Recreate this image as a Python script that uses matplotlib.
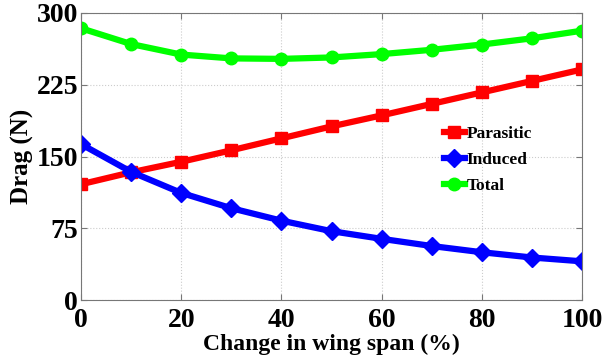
import matplotlib.pyplot as plt

plt.rcParams['font.family'] = 'Liberation Serif'
plt.rcParams['font.weight'] = 'bold'

# change in wing span (%) and drag components (N)
span_change = [0, 10, 20, 30, 40, 50, 60, 70, 80, 90, 100]
parasitic = [121, 133.5, 144.5, 156.5, 169, 181.5, 193, 205, 217, 229, 241]
induced = [163, 134, 112, 96, 83, 72, 64, 56.5, 50, 44.5, 40.5]
total = [284, 267.5, 256.5, 252.5, 252, 253.5, 257, 261.5, 267, 273.5, 281.5]

xticks = [0, 20, 40, 60, 80, 100]
yticks = [0, 75, 150, 225, 300]

fig = plt.figure(figsize=(6.04, 3.59), dpi=100)
ax = fig.add_axes([0.134, 0.164, 0.830, 0.800])

ax.plot(span_change, parasitic, color='#ff0000', lw=4.5, marker='s', ms=9, label='Parasitic')
ax.plot(span_change, induced, color='#0000ff', lw=4.5, marker='D', ms=9, label='Induced')
ax.plot(span_change, total, color='#00ff00', lw=4.5, marker='o', ms=9, label='Total')

ax.set_xlim(0, 100)
ax.set_ylim(0, 300)
ax.set_xticks(xticks)
ax.set_yticks(yticks)
ax.tick_params(direction='in', length=4, width=0.8, colors='#777777',
               labelcolor='black', labelsize=20, top=True, right=True, pad=2)
ax.tick_params(axis='x', pad=6)
for lab in ax.get_xticklabels() + ax.get_yticklabels():
    lab.set_fontweight('bold')
for sp in ax.spines.values():
    sp.set_color('#777777')
    sp.set_linewidth(0.8)
ax.grid(True, ls=':', color='#cccccc', lw=0.8)

ax.set_xlabel('Change in wing span (%)', fontsize=17, fontweight='bold', labelpad=0.5)
ax.set_ylabel('Drag (N)', fontsize=18, fontweight='bold', labelpad=2)

leg = ax.legend(loc='upper left', bbox_to_anchor=(0.71, 0.63), frameon=False,
                prop={'size': 12.5, 'weight': 'bold'}, handlelength=1.2,
                handletextpad=0.1, labelspacing=0.55, borderaxespad=0)

fig.savefig('out.png', dpi=100)
